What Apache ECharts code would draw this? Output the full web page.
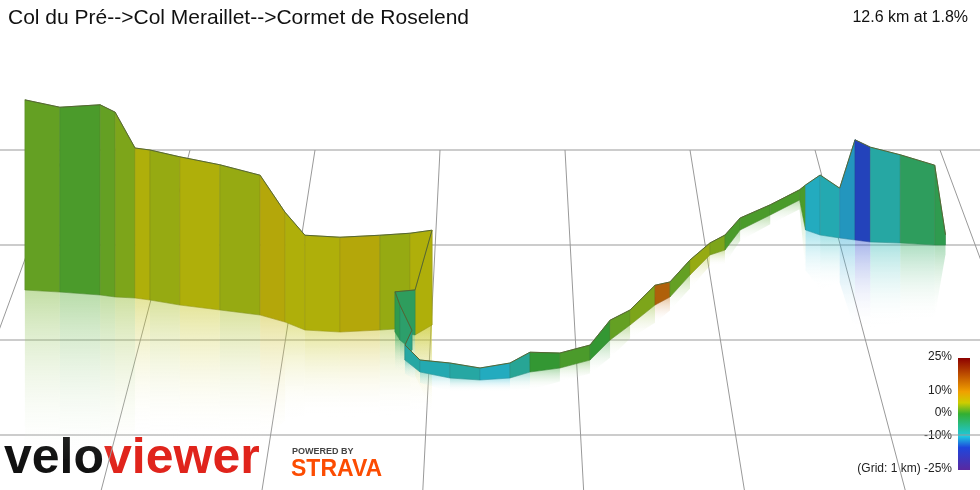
<!DOCTYPE html>
<html><head><meta charset="utf-8">
<script src="https://cdn.jsdelivr.net/npm/echarts@6/dist/echarts.min.js"></script>
<style>html,body{margin:0;padding:0;background:#fff}#c{width:980px;height:490px}</style>
</head><body><div id="c"></div>
<script>
// Route: world X (km), depth Y (km), elevation (m), gradient (%)
var routeX = [0.60,0.855,1.149,1.26,1.404,1.514,1.735,2.025,2.315,2.498,2.645,2.89,3.166,3.374,3.526,3.412,3.272,3.31,3.397,3.354,3.461,3.664,3.866,4.067,4.202,4.405,4.612,4.759,4.907,5.097,5.21,5.375,5.543,5.66,5.80,6.05,6.30,6.29,6.39,6.53,6.64,6.75,6.97,7.22,7.30];
var routeY = [1.474,1.495,1.526,1.547,1.558,1.579,1.632,1.684,1.737,1.811,1.895,1.916,1.895,1.874,1.842,1.947,1.916,2.0,2.105,2.211,2.337,2.4,2.421,2.4,2.337,2.295,2.211,2.0,1.842,1.632,1.547,1.316,1.105,1.053,0.842,0.684,0.526,0.842,0.895,0.926,0.947,0.968,0.979,1.0,1.0];
var routeEle = [1717,1708,1717,1708,1650,1650,1647,1642,1633,1583,1558,1558,1558,1558,1558,1475,1467,1458,1433,1425,1420,1425,1420,1425,1433,1425,1425,1433,1425,1433,1425,1425,1420,1425,1420,1417,1417,1475,1500,1483,1567,1558,1547,1533,1417];
var routeGrade = [2,1,2,3,5,4,5,4,6,5,5,6,4,5,5,-3,-2,-4,-6,-8,-9,-8,-10,-7,0,1,0,2,3,15,2,4,3,1,1,1,1,-10,-9,-11,-15,-8,-3,-2,0];
var gridCols = [-1.48,-0.48,0.52,1.52,2.52,3.52,4.52,5.52,6.52,7.52,8.52,9.52];
var gridRows = [0,1,2,3];
var title = 'Col du Pré-->Col Meraillet-->Cormet de Roselend';
var summary = '12.6 km at 1.8%';
var scaleLabels = ['25%','10%','0%','-10%','(Grid: 1 km) -25%'];
var scaleValues = [25,10,0,-10,-25];

function proj(X,Y,ele){var s=125*(1+0.08*Y);return [500+(X-4)*s,150+95*Y-(ele-1400)*0.6];}
var stops=[[-25,[90,40,160]],[-15,[30,70,220]],[-10,[30,200,225]],[0,[50,175,50]],[5,[205,205,0]],[10,[240,160,0]],[25,[140,0,0]]];
function gcol(g,k){g=Math.max(-25,Math.min(25,g));for(var i=0;i<stops.length-1;i++){var a=stops[i],b=stops[i+1];if(g<=b[0]){var t=(g-a[0])/(b[0]-a[0]);var c=[0,1,2].map(function(j){return Math.round((a[1][j]+(b[1][j]-a[1][j])*t)*k+150*(1-k)*0.35);});return 'rgb('+c.join(',')+')';}}return 'rgb(140,0,0)';}
var idx=[];for(var i=0;i<routeX.length-1;i++)idx.push(i);
function seg(i,refl){
  var g0=proj(routeX[i],routeY[i],1400),g1=proj(routeX[i+1],routeY[i+1],1400);
  var t0=proj(routeX[i],routeY[i],routeEle[i]),t1=proj(routeX[i+1],routeY[i+1],routeEle[i+1]);
  if(refl){
    var r0=[g0[0],g0[1]+(g0[1]-t0[1])*0.9],r1=[g1[0],g1[1]+(g1[1]-t1[1])*0.9];
    return {type:'polygon',shape:{points:[g0,g1,r1,r0]},style:{fill:new echarts.graphic.LinearGradient(0,0,0,1,[{offset:0,color:gcol(routeGrade[i],0.9)},{offset:1,color:'rgba(255,255,255,0)'}]),opacity:0.4,stroke:null}};
  }
  return {type:'group',children:[
    {type:'polygon',shape:{points:[t0,t1,g1,g0]},style:{fill:gcol(routeGrade[i],0.8),stroke:gcol(routeGrade[i],0.65),lineWidth:0.6}},
    {type:'line',shape:{x1:t0[0],y1:t0[1],x2:t1[0],y2:t1[1]},style:{stroke:'#556633',lineWidth:1}}]};
}
var gridLines=[];
gridRows.forEach(function(r){gridLines.push([gridCols[0],r,gridCols[gridCols.length-1],r]);});
gridCols.forEach(function(c){gridLines.push([c,0,c,3.6]);});
var chart=echarts.init(document.getElementById('c'));
var sc=[];for(var k=0;k<=20;k++){var v=25-k*2.5;sc.push({offset:k/20,color:gcol(v,1)});}
var g=[
 {type:'text',left:8,top:8,style:{text:title,font:'21px "Liberation Sans", Arial',fill:'#111'}},
 {type:'text',right:12,top:10,style:{text:summary,font:'16px "Liberation Sans", Arial',fill:'#111'}},
 {type:'text',left:4,top:434,style:{rich:{a:{font:'bold 50px "Liberation Sans Narrow","Liberation Sans"',fill:'#111'},b:{font:'bold 50px "Liberation Sans Narrow","Liberation Sans"',fill:'#e0241c'}},text:'{a|velo}{b|viewer}'}},
 {type:'text',left:292,top:447,style:{text:'POWERED BY',font:'bold 9px "Liberation Sans"',fill:'#444'}},
 {type:'text',left:291,top:458,style:{text:'STRAVA',font:'bold 23px "Liberation Sans"',fill:'#fc4c02'}},
 {type:'rect',shape:{x:958,y:358,width:12,height:112},style:{fill:new echarts.graphic.LinearGradient(0,0,0,1,sc)}}
];
scaleLabels.forEach(function(l,i){var y=358+(25-scaleValues[i])/50*112;g.push({type:'text',right:28,top:y-7,style:{text:l,font:'12px "Liberation Sans"',fill:'#222',align:'right'}});});
chart.setOption({animation:false,graphic:g,series:[
 {type:'custom',coordinateSystem:'none',data:gridLines,renderItem:function(p,api){var a=proj(api.value(0),api.value(1),1400),b=proj(api.value(2),api.value(3),1400);return {type:'line',shape:{x1:a[0],y1:a[1],x2:b[0],y2:b[1]},style:{stroke:'#999',lineWidth:1}};}},
 {type:'custom',coordinateSystem:'none',data:idx,renderItem:function(p,api){return seg(api.value(0),true);}},
 {type:'custom',coordinateSystem:'none',data:idx,renderItem:function(p,api){return seg(api.value(0),false);}}
]});
</script></body></html>
